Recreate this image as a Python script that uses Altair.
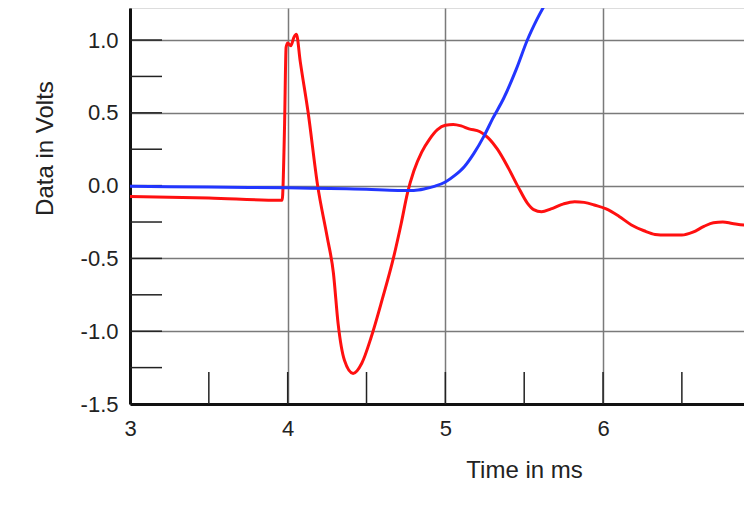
import altair as alt
import pandas as pd

# Red trace (time in ms, volts)
red_t = [3.0, 3.5, 3.95, 3.965, 3.98, 3.99, 4.0, 4.02, 4.04, 4.055, 4.08, 4.13, 4.19, 4.25, 4.29,
         4.32, 4.36, 4.415, 4.47, 4.53, 4.6, 4.67, 4.72, 4.76, 4.8, 4.85, 4.9, 4.95, 5.0,
         5.05, 5.1, 5.15, 5.22, 5.27, 5.33, 5.4, 5.46, 5.52, 5.56, 5.61, 5.67, 5.75, 5.82, 5.88,
         5.95, 6.02, 6.1, 6.18, 6.26, 6.33, 6.4, 6.5, 6.57, 6.64, 6.7, 6.76, 6.82, 6.9, 6.95]
red_v = [-0.075, -0.085, -0.1, -0.1, 0.4, 0.95, 0.98, 0.96, 1.02, 1.04, 0.85, 0.5, 0.0, -0.35, -0.6,
         -0.95, -1.2, -1.29, -1.22, -1.04, -0.78, -0.5, -0.26, -0.05, 0.1, 0.23, 0.32, 0.385, 0.415,
         0.42, 0.41, 0.39, 0.37, 0.33, 0.25, 0.12, -0.005, -0.12, -0.165, -0.18, -0.16, -0.125, -0.11, -0.115,
         -0.135, -0.16, -0.21, -0.27, -0.31, -0.335, -0.34, -0.34, -0.32, -0.28, -0.255, -0.25, -0.26, -0.27, -0.265]

# Blue trace
blue_t = [3.0, 3.5, 4.0, 4.5, 4.7, 4.8, 4.87, 4.93, 5.0, 5.06, 5.12, 5.18, 5.245, 5.3, 5.37,
          5.45, 5.52, 5.58, 5.65, 5.75, 5.9, 6.1, 6.3, 6.5, 6.7, 6.88, 6.95]
blue_v = [-0.005, -0.01, -0.015, -0.025, -0.033, -0.033, -0.022, -0.005, 0.025, 0.07, 0.13, 0.22, 0.34, 0.46, 0.6,
          0.8, 1.0, 1.14, 1.28, 1.48, 1.72, 1.9, 1.95, 1.83, 1.55, 1.28, 1.2]

x_labels = [3, 4, 5, 6, 7]
y_labels = [-1.5, -1.0, -0.5, 0.0, 0.5, 1.0]
x_minor = [3.5, 4.0, 4.5, 5.0, 5.5, 6.0, 6.5]
y_minor = [-1.25, -1.0, -0.75, -0.5, -0.25, 0.0, 0.25, 0.5, 0.75, 1.0]

W, H = 614, 396
x_dom = [3, 6.894]
y_dom = [-1.5, 1.22]

red_df = pd.DataFrame({"t": red_t, "v": red_v})
blue_df = pd.DataFrame({"t": blue_t, "v": blue_v})

font = "Liberation Sans"

xscale = alt.Scale(domain=x_dom, nice=False, zero=False)
yscale = alt.Scale(domain=y_dom, nice=False, zero=False)

xaxis = alt.Axis(values=x_labels, title="Time in ms", grid=True, gridColor="#7a7a7a", gridWidth=1.5,
                 ticks=False, domainColor="#111", domainWidth=3, labelFont=font, labelFontSize=22,
                 labelColor="#222", labelPadding=14, labelFlush=False, titleFont=font, titleFontSize=24,
                 titleFontWeight="normal", titleColor="#222", titleX=394, titleY=66,
                 titleBaseline="middle", titleAlign="center", format="d")
yaxis = alt.Axis(values=y_labels, title="Data in Volts", grid=True, gridColor="#7a7a7a", gridWidth=1.5,
                 ticks=False, domainColor="#111", domainWidth=3, labelFont=font, labelFontSize=22,
                 labelColor="#222", labelPadding=12, labelFlush=False, titleFont=font, titleFontSize=24,
                 titleFontWeight="normal", titleColor="#222", titleX=-85, titleY=140,
                 titleBaseline="middle", titleAlign="center",
                 labelExpr="(datum.value < 0 ? '-' : '') + format(abs(datum.value), '.1f')")

base_red = alt.Chart(red_df).mark_line(color="#ff1010", strokeWidth=3, clip=True, interpolate="monotone").encode(
    x=alt.X("t:Q", scale=xscale, axis=xaxis),
    y=alt.Y("v:Q", scale=yscale, axis=yaxis),
)
blue = alt.Chart(blue_df).mark_line(color="#2236ff", strokeWidth=3, clip=True, interpolate="monotone").encode(
    x=alt.X("t:Q", scale=xscale),
    y=alt.Y("v:Q", scale=yscale),
)

yt = alt.Chart(pd.DataFrame({"v": y_minor})).mark_rule(color="#222", strokeWidth=1.5, clip=True).encode(
    y=alt.Y("v:Q", scale=yscale), x=alt.value(0), x2=alt.value(32))
xt = alt.Chart(pd.DataFrame({"t": x_minor})).mark_rule(color="#222", strokeWidth=1.5, clip=True).encode(
    x=alt.X("t:Q", scale=xscale), y=alt.value(H), y2=alt.value(H - 32))

chart = alt.layer(base_red, yt, xt, blue).properties(
    width=W, height=H,
    autosize=alt.AutoSizeParams(type="none"),
    padding={"left": 122, "top": 0, "right": 0, "bottom": 90},
).configure_view(stroke=None).configure(background="white")

chart.save("out.html", embed_options={"renderer": "svg", "actions": False})
